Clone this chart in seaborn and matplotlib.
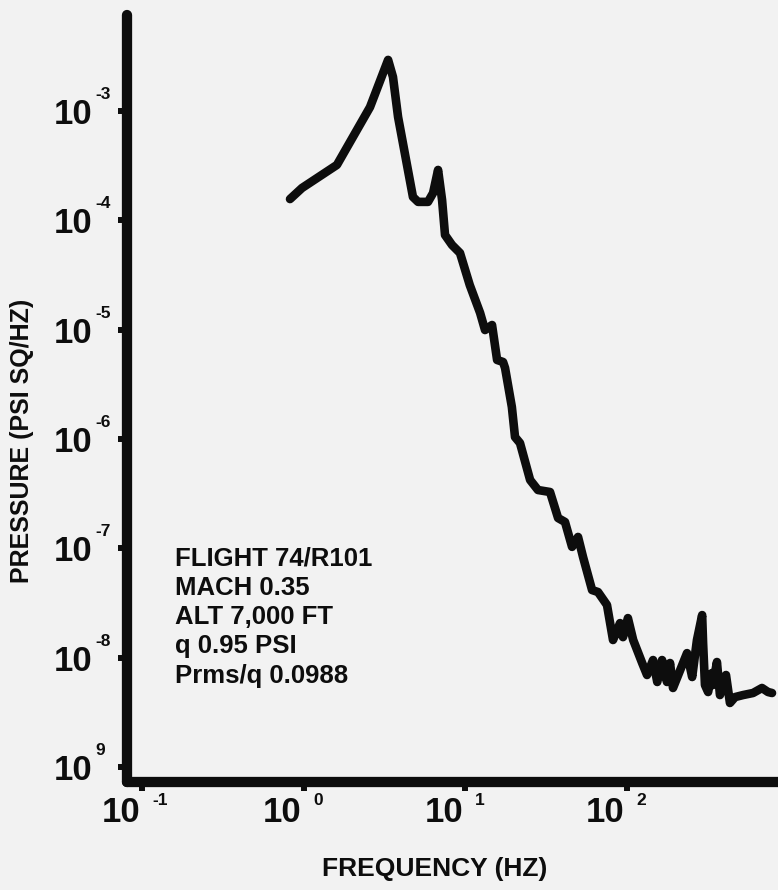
import matplotlib
matplotlib.use("Agg")
import matplotlib.pyplot as plt
import numpy as np
import pandas as pd
import seaborn as sns

# ---------------- data ----------------
freq_hz = [0.825, 0.979, 1.61, 2.58, 3.34, 3.58, 3.85, 4.76, 5.12, 5.90,
           6.34, 6.81, 7.21, 7.52, 8.31, 9.31, 10.7, 12.4, 13.3, 14.7,
           15.8, 17.2, 17.7, 19.5, 20.4, 21.9, 25.3, 28.3, 33.6, 37.7,
           41.6, 46.0, 50.1, 53.8, 61.2, 66.6, 75.7, 82.5, 91.2, 95.1,
           102, 110, 125, 134, 146, 155, 166, 178, 186, 194,
           215, 237, 255, 273, 294, 298, 306, 320, 338, 343,
           363, 379, 413, 437, 470, 527, 607, 690, 752, 796]
psd = [1.56e-4, 1.97e-4, 3.20e-4, 1.08e-3, 2.92e-3, 2.04e-3, 8.78e-4, 1.63e-4, 1.47e-4, 1.47e-4,
       1.77e-4, 2.88e-4, 1.53e-4, 7.32e-5, 5.93e-5, 5.01e-5, 2.55e-5, 1.42e-5, 9.90e-6, 1.10e-5,
       5.27e-6, 5.05e-6, 4.45e-6, 1.96e-6, 1.04e-6, 9.17e-7, 4.21e-7, 3.41e-7, 3.27e-7, 1.89e-7,
       1.74e-7, 1.03e-7, 1.27e-7, 8.32e-8, 4.15e-8, 3.98e-8, 3.03e-8, 1.45e-8, 2.07e-8, 1.54e-8,
       2.30e-8, 1.45e-8, 8.93e-9, 6.94e-9, 9.51e-9, 5.99e-9, 9.51e-9, 5.99e-9, 8.93e-9, 5.28e-9,
       7.70e-9, 1.10e-8, 6.65e-9, 1.45e-8, 2.45e-8, 1.36e-8, 5.62e-9, 4.85e-9, 7.23e-9, 5.62e-9,
       9.12e-9, 4.55e-9, 6.94e-9, 3.85e-9, 4.36e-9, 4.55e-9, 4.75e-9, 5.28e-9, 4.85e-9, 4.75e-9]

x_tick_values = [0.1, 1, 10, 100]
x_tick_exps = ["-1", "0", "1", "2"]
y_tick_values = [1e-3, 1e-4, 1e-5, 1e-6, 1e-7, 1e-8, 1e-9]
y_tick_exps = ["-3", "-4", "-5", "-6", "-7", "-8", "9"]

x_label = "FREQUENCY (HZ)"
y_label = "PRESSURE (PSI SQ/HZ)"
info_lines = ["FLIGHT 74/R101", "MACH 0.35", "ALT 7,000 FT", "q 0.95 PSI", "Prms/q 0.0988"]

# ---------------- style ----------------
BG = "#f2f2f2"
INK = "#0d0d0d"
sns.set_theme(style="white")
plt.rcParams["font.family"] = ["Liberation Sans", "DejaVu Sans"]
plt.rcParams["font.weight"] = "bold"

W, H = 778, 890
fig = plt.figure(figsize=(W / 100, H / 100), dpi=100, facecolor=BG)
ax = fig.add_axes([127 / W, 1 - 782 / H, 1 - 127 / W, (782 - 15) / H])
ax.set_facecolor(BG)
ax.set_xscale("log")
ax.set_yscale("log")

df = pd.DataFrame({"freq": freq_hz, "psd": psd})
sns.lineplot(data=df, x="freq", y="psd", ax=ax, color=INK, linewidth=6.2,
             sort=False, estimator=None)
for ln in ax.lines:
    ln.set_solid_joinstyle("round")
    ln.set_solid_capstyle("round")

ax.set_xlim(10 ** -1.093, 10 ** 2.938)
ax.set_ylim(10 ** -9.137, 10 ** -2.124)

for s in ["top", "right"]:
    ax.spines[s].set_visible(False)
for s in ["left", "bottom"]:
    ax.spines[s].set_linewidth(7.4)
    ax.spines[s].set_color(INK)
    ax.spines[s].set_capstyle("round")

ax.set_xticks(x_tick_values)
ax.set_yticks(y_tick_values)
ax.minorticks_off()
ax.tick_params(axis="both", which="major", direction="out", length=6.5, width=4.3,
               color=INK, left=True, bottom=True, labelleft=False, labelbottom=False)
ax.set_xlabel("")
ax.set_ylabel("")

pt = 0.72  # points per pixel at 100 dpi
# y tick labels: "10" plus small raised exponent
for v, e in zip(y_tick_values, y_tick_exps):
    ax.annotate("10", xy=(0, v), xycoords=ax.get_yaxis_transform(),
                xytext=(-35 * pt, -13 * pt), textcoords="offset points",
                ha="right", va="baseline", fontsize=25, fontweight="bold", color=INK)
    ax.annotate(e, xy=(0, v), xycoords=ax.get_yaxis_transform(),
                xytext=(-32 * pt, 12 * pt), textcoords="offset points",
                ha="left", va="baseline", fontsize=12.5, fontweight="bold", color=INK)

# x tick labels
for v, e in zip(x_tick_values, x_tick_exps):
    ax.annotate("10", xy=(v, 0), xycoords=ax.get_xaxis_transform(),
                xytext=(-2 * pt, -40 * pt), textcoords="offset points",
                ha="right", va="baseline", fontsize=25, fontweight="bold", color=INK,
                annotation_clip=False)
    ax.annotate(e, xy=(v, 0), xycoords=ax.get_xaxis_transform(),
                xytext=(10 * pt, -23 * pt), textcoords="offset points",
                ha="left", va="baseline", fontsize=12.5, fontweight="bold", color=INK,
                annotation_clip=False)

# axis titles
fig.text(22 / W, 1 - 441 / H, y_label, rotation=90, ha="center", va="center",
         fontsize=18, fontweight="bold", color=INK)
fig.text(435 / W, 1 - 876 / H, x_label, ha="center", va="baseline",
         fontsize=19, fontweight="bold", color=INK)

# info block
baselines = [565, 595, 624, 653, 683]
for txt, b in zip(info_lines, baselines):
    fig.text(175 / W, 1 - b / H, txt, ha="left", va="baseline",
             fontsize=18.5, fontweight="bold", color=INK)

fig.savefig("out.png", dpi=100, facecolor=BG)
